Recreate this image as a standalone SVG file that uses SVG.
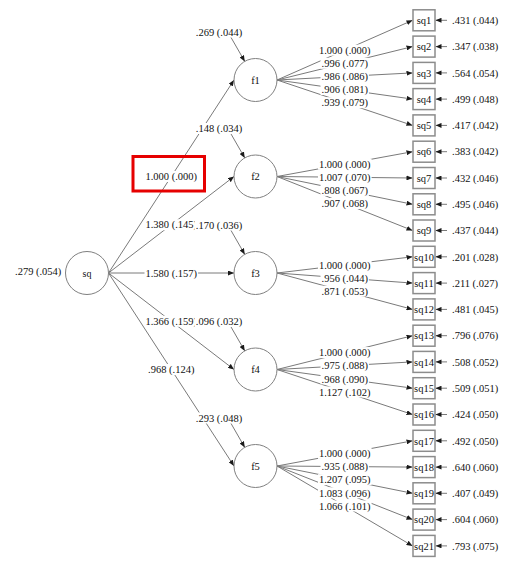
<svg xmlns="http://www.w3.org/2000/svg" width="516" height="564" viewBox="0 0 516 564">
<defs>
<marker id="ah" markerWidth="6" markerHeight="5" refX="6" refY="2.5" orient="auto" markerUnits="userSpaceOnUse"><path d="M0,0 L6,2.5 L0,5 z" fill="#1a1a1a"/></marker>
<style>
.ln{stroke:#7a7a7a;stroke-width:1;fill:none;marker-end:url(#ah)}
.t{font-family:"Liberation Serif","Times New Roman",serif;font-size:10.5px;fill:#111}
.m{text-anchor:middle}
.bg{fill:#fff}
.c{fill:#fff;stroke:#808080;stroke-width:1}
.b{fill:#fff;stroke:#8c8c8c;stroke-width:1.5}
</style>
</defs>
<rect width="516" height="564" fill="#fff"/>
<g id="connectors">
<line class="ln" x1="108.5" y1="273" x2="234" y2="80"/>
<line class="ln" x1="108.5" y1="273" x2="234" y2="176.5"/>
<line class="ln" x1="108.5" y1="273" x2="234" y2="273"/>
<line class="ln" x1="108.5" y1="273" x2="234" y2="369.5"/>
<line class="ln" x1="108.5" y1="273" x2="234" y2="466"/>
<line class="ln" x1="230.75" y1="37" x2="244.75" y2="61.4"/>
<line class="ln" x1="230.75" y1="133.5" x2="244.75" y2="157.9"/>
<line class="ln" x1="230.75" y1="230" x2="244.75" y2="254.4"/>
<line class="ln" x1="230.75" y1="326.5" x2="244.75" y2="350.9"/>
<line class="ln" x1="230.75" y1="423" x2="244.75" y2="447.4"/>
<line class="ln" x1="277" y1="80" x2="412.5" y2="20.3"/>
<line class="ln" x1="277" y1="80" x2="412.5" y2="46.6"/>
<line class="ln" x1="277" y1="80" x2="412.5" y2="72.9"/>
<line class="ln" x1="277" y1="80" x2="412.5" y2="99.1"/>
<line class="ln" x1="277" y1="80" x2="412.5" y2="125.4"/>
<line class="ln" x1="277" y1="176.5" x2="412.5" y2="151.7"/>
<line class="ln" x1="277" y1="176.5" x2="412.5" y2="178"/>
<line class="ln" x1="277" y1="176.5" x2="412.5" y2="204.3"/>
<line class="ln" x1="277" y1="176.5" x2="412.5" y2="230.5"/>
<line class="ln" x1="277" y1="273" x2="412.5" y2="256.8"/>
<line class="ln" x1="277" y1="273" x2="412.5" y2="283.1"/>
<line class="ln" x1="277" y1="273" x2="412.5" y2="309.4"/>
<line class="ln" x1="277" y1="369.5" x2="412.5" y2="335.7"/>
<line class="ln" x1="277" y1="369.5" x2="412.5" y2="361.9"/>
<line class="ln" x1="277" y1="369.5" x2="412.5" y2="388.2"/>
<line class="ln" x1="277" y1="369.5" x2="412.5" y2="414.5"/>
<line class="ln" x1="277" y1="466" x2="412.5" y2="440.8"/>
<line class="ln" x1="277" y1="466" x2="412.5" y2="467.1"/>
<line class="ln" x1="277" y1="466" x2="412.5" y2="493.3"/>
<line class="ln" x1="277" y1="466" x2="412.5" y2="519.6"/>
<line class="ln" x1="277" y1="466" x2="412.5" y2="545.9"/>
<line class="ln" x1="447" y1="20.3" x2="435.5" y2="20.3"/>
<line class="ln" x1="447" y1="46.6" x2="435.5" y2="46.6"/>
<line class="ln" x1="447" y1="72.9" x2="435.5" y2="72.9"/>
<line class="ln" x1="447" y1="99.1" x2="435.5" y2="99.1"/>
<line class="ln" x1="447" y1="125.4" x2="435.5" y2="125.4"/>
<line class="ln" x1="447" y1="151.7" x2="435.5" y2="151.7"/>
<line class="ln" x1="447" y1="178" x2="435.5" y2="178"/>
<line class="ln" x1="447" y1="204.3" x2="435.5" y2="204.3"/>
<line class="ln" x1="447" y1="230.5" x2="435.5" y2="230.5"/>
<line class="ln" x1="447" y1="256.8" x2="435.5" y2="256.8"/>
<line class="ln" x1="447" y1="283.1" x2="435.5" y2="283.1"/>
<line class="ln" x1="447" y1="309.4" x2="435.5" y2="309.4"/>
<line class="ln" x1="447" y1="335.7" x2="435.5" y2="335.7"/>
<line class="ln" x1="447" y1="361.9" x2="435.5" y2="361.9"/>
<line class="ln" x1="447" y1="388.2" x2="435.5" y2="388.2"/>
<line class="ln" x1="447" y1="414.5" x2="435.5" y2="414.5"/>
<line class="ln" x1="447" y1="440.8" x2="435.5" y2="440.8"/>
<line class="ln" x1="447" y1="467.1" x2="435.5" y2="467.1"/>
<line class="ln" x1="447" y1="493.3" x2="435.5" y2="493.3"/>
<line class="ln" x1="447" y1="519.6" x2="435.5" y2="519.6"/>
<line class="ln" x1="447" y1="545.9" x2="435.5" y2="545.9"/>
</g>
<g id="labels">
<rect class="bg" x="144.5" y="171" width="53.6" height="11"/><text class="t m" x="171.25" y="180.2">1.000 (.000)</text>
<rect class="bg" x="144.5" y="219.25" width="53.6" height="11"/><text class="t m" x="171.25" y="228.45">1.380 (.145)</text>
<rect class="bg" x="144.5" y="267.5" width="53.6" height="11"/><text class="t m" x="171.25" y="276.7">1.580 (.157)</text>
<rect class="bg" x="144.5" y="315.75" width="53.6" height="11"/><text class="t m" x="171.25" y="324.95">1.366 (.159)</text>
<rect class="bg" x="147" y="364" width="48.4" height="11"/><text class="t m" x="171.25" y="373.2">.968 (.124)</text>
<rect class="bg" x="194.8" y="26.5" width="48.4" height="11"/><text class="t m" x="219" y="35.7">.269 (.044)</text>
<rect class="bg" x="194.8" y="123" width="48.4" height="11"/><text class="t m" x="219" y="132.2">.148 (.034)</text>
<rect class="bg" x="194.8" y="219.5" width="48.4" height="11"/><text class="t m" x="219" y="228.7">.170 (.036)</text>
<rect class="bg" x="194.8" y="316" width="48.4" height="11"/><text class="t m" x="219" y="325.2">.096 (.032)</text>
<rect class="bg" x="194.8" y="412.5" width="48.4" height="11"/><text class="t m" x="219" y="421.7">.293 (.048)</text>
<rect class="bg" x="318" y="44.65" width="53.6" height="11"/><text class="t m" x="344.75" y="53.85">1.000 (.000)</text>
<rect class="bg" x="320.5" y="57.8" width="48.4" height="11"/><text class="t m" x="344.75" y="67">.996 (.077)</text>
<rect class="bg" x="320.5" y="70.95" width="48.4" height="11"/><text class="t m" x="344.75" y="80.15">.986 (.086)</text>
<rect class="bg" x="320.5" y="84.05" width="48.4" height="11"/><text class="t m" x="344.75" y="93.25">.906 (.081)</text>
<rect class="bg" x="320.5" y="97.2" width="48.4" height="11"/><text class="t m" x="344.75" y="106.4">.939 (.079)</text>
<rect class="bg" x="318" y="158.6" width="53.6" height="11"/><text class="t m" x="344.75" y="167.8">1.000 (.000)</text>
<rect class="bg" x="318" y="171.75" width="53.6" height="11"/><text class="t m" x="344.75" y="180.95">1.007 (.070)</text>
<rect class="bg" x="320.5" y="184.9" width="48.4" height="11"/><text class="t m" x="344.75" y="194.1">.808 (.067)</text>
<rect class="bg" x="320.5" y="198" width="48.4" height="11"/><text class="t m" x="344.75" y="207.2">.907 (.068)</text>
<rect class="bg" x="318" y="259.4" width="53.6" height="11"/><text class="t m" x="344.75" y="268.6">1.000 (.000)</text>
<rect class="bg" x="320.5" y="272.55" width="48.4" height="11"/><text class="t m" x="344.75" y="281.75">.956 (.044)</text>
<rect class="bg" x="320.5" y="285.7" width="48.4" height="11"/><text class="t m" x="344.75" y="294.9">.871 (.053)</text>
<rect class="bg" x="318" y="347.1" width="53.6" height="11"/><text class="t m" x="344.75" y="356.3">1.000 (.000)</text>
<rect class="bg" x="320.5" y="360.2" width="48.4" height="11"/><text class="t m" x="344.75" y="369.4">.975 (.088)</text>
<rect class="bg" x="320.5" y="373.35" width="48.4" height="11"/><text class="t m" x="344.75" y="382.55">.968 (.090)</text>
<rect class="bg" x="318" y="386.5" width="53.6" height="11"/><text class="t m" x="344.75" y="395.7">1.127 (.102)</text>
<rect class="bg" x="318" y="447.9" width="53.6" height="11"/><text class="t m" x="344.75" y="457.1">1.000 (.000)</text>
<rect class="bg" x="320.5" y="461.05" width="48.4" height="11"/><text class="t m" x="344.75" y="470.25">.935 (.088)</text>
<rect class="bg" x="318" y="474.15" width="53.6" height="11"/><text class="t m" x="344.75" y="483.35">1.207 (.095)</text>
<rect class="bg" x="318" y="487.3" width="53.6" height="11"/><text class="t m" x="344.75" y="496.5">1.083 (.096)</text>
<rect class="bg" x="318" y="500.45" width="53.6" height="11"/><text class="t m" x="344.75" y="509.65">1.066 (.101)</text>
<text class="t" x="452" y="24">.431 (.044)</text>
<text class="t" x="452" y="50.3">.347 (.038)</text>
<text class="t" x="452" y="76.6">.564 (.054)</text>
<text class="t" x="452" y="102.8">.499 (.048)</text>
<text class="t" x="452" y="129.1">.417 (.042)</text>
<text class="t" x="452" y="155.4">.383 (.042)</text>
<text class="t" x="452" y="181.7">.432 (.046)</text>
<text class="t" x="452" y="208">.495 (.046)</text>
<text class="t" x="452" y="234.2">.437 (.044)</text>
<text class="t" x="452" y="260.5">.201 (.028)</text>
<text class="t" x="452" y="286.8">.211 (.027)</text>
<text class="t" x="452" y="313.1">.481 (.045)</text>
<text class="t" x="452" y="339.4">.796 (.076)</text>
<text class="t" x="452" y="365.6">.508 (.052)</text>
<text class="t" x="452" y="391.9">.509 (.051)</text>
<text class="t" x="452" y="418.2">.424 (.050)</text>
<text class="t" x="452" y="444.5">.492 (.050)</text>
<text class="t" x="452" y="470.8">.640 (.060)</text>
<text class="t" x="452" y="497">.407 (.049)</text>
<text class="t" x="452" y="523.3">.604 (.060)</text>
<text class="t" x="452" y="549.6">.793 (.075)</text>
<text class="t" x="15" y="275.4">.279 (.054)</text>
</g>
<g id="sq"><circle class="c" cx="87" cy="273" r="21.5"/><text class="t m" x="87" y="276.5" style="font-size:10px">sq</text></g>
<g id="f1"><circle class="c" cx="255.5" cy="80" r="21.5"/><text class="t m" x="255.5" y="83.7">f1</text></g>
<g id="f2"><circle class="c" cx="255.5" cy="176.5" r="21.5"/><text class="t m" x="255.5" y="180.2">f2</text></g>
<g id="f3"><circle class="c" cx="255.5" cy="273" r="21.5"/><text class="t m" x="255.5" y="276.7">f3</text></g>
<g id="f4"><circle class="c" cx="255.5" cy="369.5" r="21.5"/><text class="t m" x="255.5" y="373.2">f4</text></g>
<g id="f5"><circle class="c" cx="255.5" cy="466" r="21.5"/><text class="t m" x="255.5" y="469.7">f5</text></g>
<g id="sq1"><rect class="b" x="413" y="9.8" width="22" height="21"/><text class="t m" x="424" y="24">sq1</text></g>
<g id="sq2"><rect class="b" x="413" y="36.1" width="22" height="21"/><text class="t m" x="424" y="50.3">sq2</text></g>
<g id="sq3"><rect class="b" x="413" y="62.4" width="22" height="21"/><text class="t m" x="424" y="76.6">sq3</text></g>
<g id="sq4"><rect class="b" x="413" y="88.6" width="22" height="21"/><text class="t m" x="424" y="102.8">sq4</text></g>
<g id="sq5"><rect class="b" x="413" y="114.9" width="22" height="21"/><text class="t m" x="424" y="129.1">sq5</text></g>
<g id="sq6"><rect class="b" x="413" y="141.2" width="22" height="21"/><text class="t m" x="424" y="155.4">sq6</text></g>
<g id="sq7"><rect class="b" x="413" y="167.5" width="22" height="21"/><text class="t m" x="424" y="181.7">sq7</text></g>
<g id="sq8"><rect class="b" x="413" y="193.8" width="22" height="21"/><text class="t m" x="424" y="208">sq8</text></g>
<g id="sq9"><rect class="b" x="413" y="220" width="22" height="21"/><text class="t m" x="424" y="234.2">sq9</text></g>
<g id="sq10"><rect class="b" x="413" y="246.3" width="22" height="21"/><text class="t m" x="424" y="260.5">sq10</text></g>
<g id="sq11"><rect class="b" x="413" y="272.6" width="22" height="21"/><text class="t m" x="424" y="286.8">sq11</text></g>
<g id="sq12"><rect class="b" x="413" y="298.9" width="22" height="21"/><text class="t m" x="424" y="313.1">sq12</text></g>
<g id="sq13"><rect class="b" x="413" y="325.2" width="22" height="21"/><text class="t m" x="424" y="339.4">sq13</text></g>
<g id="sq14"><rect class="b" x="413" y="351.4" width="22" height="21"/><text class="t m" x="424" y="365.6">sq14</text></g>
<g id="sq15"><rect class="b" x="413" y="377.7" width="22" height="21"/><text class="t m" x="424" y="391.9">sq15</text></g>
<g id="sq16"><rect class="b" x="413" y="404" width="22" height="21"/><text class="t m" x="424" y="418.2">sq16</text></g>
<g id="sq17"><rect class="b" x="413" y="430.3" width="22" height="21"/><text class="t m" x="424" y="444.5">sq17</text></g>
<g id="sq18"><rect class="b" x="413" y="456.6" width="22" height="21"/><text class="t m" x="424" y="470.8">sq18</text></g>
<g id="sq19"><rect class="b" x="413" y="482.8" width="22" height="21"/><text class="t m" x="424" y="497">sq19</text></g>
<g id="sq20"><rect class="b" x="413" y="509.1" width="22" height="21"/><text class="t m" x="424" y="523.3">sq20</text></g>
<g id="sq21"><rect class="b" x="413" y="535.4" width="22" height="21"/><text class="t m" x="424" y="549.6">sq21</text></g>
<rect x="133" y="156.5" width="71.5" height="34.5" fill="none" stroke="#e60000" stroke-width="3"/>
</svg>
